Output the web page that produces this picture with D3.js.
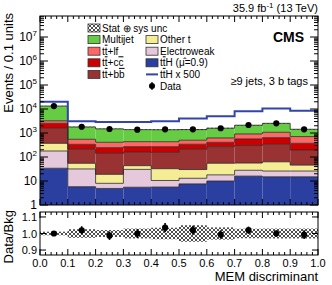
<!DOCTYPE html>
<html>
<head>
<meta charset="utf-8">
<script src="https://cdn.jsdelivr.net/npm/d3@7"></script>
<style>
  body { margin: 0; background: #fff; }
  text { font-family: "Liberation Sans", Arial, sans-serif; }
</style>
</head>
<body>
<svg id="chart"></svg>
<script>
// bin edges of the MEM discriminant
const binEdges = [0, 0.1, 0.2, 0.3, 0.4, 0.5, 0.6, 0.7, 0.8, 0.9, 1.0];

// stacked backgrounds (events per bin), bottom to top
const ttH = [34, 5.8, 4.9, 5.5, 5.6, 7.6, 10, 16, 15, 15];
const electroweak = [144, 26, 3.1, 25, 4.9, 5.4, 8, 12, 11, 11];
const otherT = [194, 23, 11, 13, 22, 17, 37, 28, 37, 20];
const ttbb = [1208, 154, 123, 117, 123, 179, 215, 244, 275, 149];
const ttcc = [950, 129, 103, 110, 114, 131, 140, 270, 302, 177];
const ttlf = [710, 209, 165, 165, 165, 160, 210, 340, 430, 338];
const multijet = [10060, 1238, 1080, 945, 937, 892, 970, 1198, 1460, 720];

// ttH signal scaled x 500
const ttHx500 = [20000, 3100, 2850, 2850, 3100, 4000, 5000, 8000, 10500, 8500];

// data and its error
const dataVals = [13300, 1820, 1470, 1380, 1420, 1420, 1580, 2150, 2530, 1420];
const dataErr = [115, 43, 38, 37, 38, 38, 40, 46, 50, 38];

// relative stat+sys uncertainty on the total background
const relUnc = [0.011, 0.026, 0.021, 0.03, 0.035, 0.05, 0.037, 0.029, 0.03, 0.03];

const yTickExps = [0, 1, 2, 3, 4, 5, 6, 7];
const xTickLabels = ['0.0', '0.1', '0.2', '0.3', '0.4', '0.5', '0.6', '0.7', '0.8', '0.9', '1.0'];
const ratioTicks = [0.9, 1.0, 1.1];

const W = 332, H = 285;
const left = 40, right = 318;
const upTop = 16, upBot = 205;
const loTop = 212, loBot = 255;

const svg = d3.select('#chart').attr('width', W).attr('height', H);

const x = d3.scaleLinear().domain([0, 1]).range([left, right]);
const y = d3.scaleLog().domain([1, 7.5e7]).range([upBot, upTop]);
const yr = d3.scaleLinear().domain([0.87, 1.13]).range([loBot, loTop]);

// hatch pattern for the uncertainty
const defs = svg.append('defs');
defs.append('pattern')
  .attr('id', 'hatch')
  .attr('width', 4).attr('height', 4)
  .attr('patternUnits', 'userSpaceOnUse')
  .append('path')
  .attr('d', 'M0,0L4,4M4,0L0,4M-1,3L1,5M3,-1L5,1')
  .attr('stroke', '#222')
  .attr('stroke-width', 0.8);
defs.append('clipPath').attr('id', 'clipUp')
  .append('rect').attr('x', left).attr('y', upTop).attr('width', right - left).attr('height', upBot - upTop);
defs.append('clipPath').attr('id', 'clipLo')
  .append('rect').attr('x', left).attr('y', loTop).attr('width', right - left).attr('height', loBot - loTop);

const keys = ['ttH', 'electroweak', 'otherT', 'ttbb', 'ttcc', 'ttlf', 'multijet'];
const colors = {
  ttH: '#2b3fa0',
  electroweak: '#e6c8dc',
  otherT: '#f5ed96',
  ttbb: '#993333',
  ttcc: '#cc0000',
  ttlf: '#ff6666',
  multijet: '#66cc44'
};
const sources = { ttH, electroweak, otherT, ttbb, ttcc, ttlf, multijet };

const rows = binEdges.slice(0, -1).map((lo, i) => {
  const r = { lo, hi: binEdges[i + 1] };
  keys.forEach(k => { r[k] = sources[k][i]; });
  return r;
});
const series = d3.stack().keys(keys)(rows);
const total = rows.map(r => d3.sum(keys, k => r[k]));

const up = svg.append('g').attr('clip-path', 'url(#clipUp)');

// stacked fills
series.forEach(s => {
  up.selectAll(null)
    .data(s)
    .enter()
    .append('rect')
    .attr('x', d => x(d.data.lo))
    .attr('width', d => x(d.data.hi) - x(d.data.lo))
    .attr('y', d => y(d[1]))
    .attr('height', d => y(Math.max(d[0], 1)) - y(d[1]))
    .attr('fill', colors[s.key]);
});

// step outline helper
const stepPts = vals => {
  const pts = [];
  vals.forEach((v, i) => { pts.push([binEdges[i], v], [binEdges[i + 1], v]); });
  return pts;
};
const stepLine = d3.line().x(d => x(d[0])).y(d => y(d[1]));

series.forEach(s => {
  up.append('path')
    .attr('d', stepLine(stepPts(s.map(d => d[1]))))
    .attr('fill', 'none')
    .attr('stroke', '#2a2a2a')
    .attr('stroke-width', 0.8);
});

// uncertainty band on the stack
up.selectAll(null)
  .data(rows)
  .enter()
  .append('rect')
  .attr('x', d => x(d.lo))
  .attr('width', d => x(d.hi) - x(d.lo))
  .attr('y', (d, i) => y(total[i] * (1 + relUnc[i])))
  .attr('height', (d, i) => y(total[i] * (1 - relUnc[i])) - y(total[i] * (1 + relUnc[i])))
  .attr('fill', 'url(#hatch)');

// ttH x 500 line
up.append('path')
  .attr('d', stepLine(stepPts(ttHx500)))
  .attr('fill', 'none')
  .attr('stroke', '#3344aa')
  .attr('stroke-width', 2);

// data points
const mid = i => (binEdges[i] + binEdges[i + 1]) / 2;
up.selectAll(null)
  .data(dataVals)
  .enter()
  .append('line')
  .attr('x1', (d, i) => x(mid(i))).attr('x2', (d, i) => x(mid(i)))
  .attr('y1', (d, i) => y(d + dataErr[i])).attr('y2', (d, i) => y(d - dataErr[i]))
  .attr('stroke', '#000').attr('stroke-width', 1.5);
up.selectAll(null)
  .data(dataVals)
  .enter()
  .append('circle')
  .attr('cx', (d, i) => x(mid(i)))
  .attr('cy', d => y(d))
  .attr('r', 3.1)
  .attr('fill', '#000');

// ratio panel
const lo = svg.append('g').attr('clip-path', 'url(#clipLo)');
lo.selectAll(null)
  .data(rows)
  .enter()
  .append('rect')
  .attr('x', d => x(d.lo))
  .attr('width', d => x(d.hi) - x(d.lo))
  .attr('y', (d, i) => yr(1 + relUnc[i]))
  .attr('height', (d, i) => yr(1 - relUnc[i]) - yr(1 + relUnc[i]))
  .attr('fill', 'url(#hatch)');
lo.selectAll(null)
  .data(dataVals)
  .enter()
  .append('line')
  .attr('x1', (d, i) => x(mid(i))).attr('x2', (d, i) => x(mid(i)))
  .attr('y1', (d, i) => yr((d + dataErr[i]) / total[i]))
  .attr('y2', (d, i) => yr((d - dataErr[i]) / total[i]))
  .attr('stroke', '#000').attr('stroke-width', 1.6);
lo.selectAll(null)
  .data(dataVals)
  .enter()
  .append('circle')
  .attr('cx', (d, i) => x(mid(i)))
  .attr('cy', (d, i) => yr(d / total[i]))
  .attr('r', 3.1)
  .attr('fill', '#000');

// frames
[[upTop, upBot], [loTop, loBot]].forEach(([t, b]) => {
  svg.append('rect')
    .attr('x', left).attr('y', t)
    .attr('width', right - left).attr('height', b - t)
    .attr('fill', 'none').attr('stroke', '#000').attr('stroke-width', 1);
});

const ax = svg.append('g').attr('stroke', '#000').attr('stroke-width', 1);

// x ticks on both panels, top and bottom, pointing inward
const xMinor = d3.range(0, 51).map(k => k * 0.02);
[[upTop, upBot], [loTop, loBot]].forEach(([t, b]) => {
  xMinor.forEach((v, k) => {
    const len = k % 5 === 0 ? 6 : 3;
    ax.append('line').attr('x1', x(v)).attr('x2', x(v)).attr('y1', b).attr('y2', b - len);
    ax.append('line').attr('x1', x(v)).attr('x2', x(v)).attr('y1', t).attr('y2', t + len);
  });
});

// log y ticks
y.ticks().forEach(v => {
  const major = Math.abs(Math.log10(v) - Math.round(Math.log10(v))) < 1e-9;
  const len = major ? 8 : 4;
  ax.append('line').attr('x1', left).attr('x2', left + len).attr('y1', y(v)).attr('y2', y(v));
  ax.append('line').attr('x1', right).attr('x2', right - len).attr('y1', y(v)).attr('y2', y(v));
});

// ratio y ticks
ratioTicks.forEach(v => {
  ax.append('line').attr('x1', left).attr('x2', left + 6).attr('y1', yr(v)).attr('y2', yr(v));
  ax.append('line').attr('x1', right).attr('x2', right - 6).attr('y1', yr(v)).attr('y2', yr(v));
});

// log y labels
yTickExps.forEach(e => {
  const t = svg.append('text')
    .attr('x', 37).attr('y', y(Math.pow(10, e)) + 4)
    .attr('text-anchor', 'end')
    .attr('font-size', 12);
  if (e === 0) t.text('1');
  else if (e === 1) t.text('10');
  else {
    t.append('tspan').text('10');
    t.append('tspan').attr('font-size', 8).attr('dy', -5).text(e);
  }
});

// ratio y labels
ratioTicks.forEach(v => {
  svg.append('text')
    .attr('x', 37).attr('y', yr(v) + 4)
    .attr('text-anchor', 'end')
    .attr('font-size', 11)
    .text(v.toFixed(1));
});

// x labels
xTickLabels.forEach((lab, i) => {
  svg.append('text')
    .attr('x', x(i / 10)).attr('y', 267)
    .attr('text-anchor', 'middle')
    .attr('font-size', 11)
    .text(lab);
});

// axis titles
svg.append('text')
  .attr('transform', `translate(13,13) rotate(-90)`)
  .attr('text-anchor', 'end')
  .attr('font-size', 13)
  .text('Events / 0.1 units');
svg.append('text')
  .attr('transform', `translate(13,210) rotate(-90)`)
  .attr('text-anchor', 'end')
  .attr('font-size', 13)
  .text('Data/Bkg');
svg.append('text')
  .attr('x', right).attr('y', 281)
  .attr('text-anchor', 'end')
  .attr('font-size', 13)
  .text('MEM discriminant');

// header texts
const lumi = svg.append('text').attr('x', 318).attr('y', 12).attr('text-anchor', 'end').attr('font-size', 11);
lumi.append('tspan').text('35.9 fb');
lumi.append('tspan').attr('font-size', 8).attr('dy', -4).text('-1');
lumi.append('tspan').attr('dy', 4).text(' (13 TeV)');

svg.append('text')
  .attr('x', 304).attr('y', 42)
  .attr('text-anchor', 'end')
  .attr('font-size', 14)
  .attr('font-weight', 'bold')
  .text('CMS');

svg.append('text')
  .attr('x', 308).attr('y', 85)
  .attr('text-anchor', 'end')
  .attr('font-size', 11)
  .text('\u22659 jets, 3 b tags');

// legend
const legRow = k => 28 + k * 11.6;
const leg = svg.append('g').attr('font-size', 10);

const addLabel = (lx, ly, parts) => {
  const t = leg.append('text').attr('x', lx).attr('y', ly + 3.5);
  parts.forEach(p => {
    const sp = t.append('tspan').text(p[0]);
    if (p[1]) sp.style('text-decoration', 'overline');
  });
};
const addBox = (bx, by, fill) => {
  leg.append('rect')
    .attr('x', bx).attr('y', by - 4)
    .attr('width', 12).attr('height', 8)
    .attr('fill', fill)
    .attr('stroke', '#333').attr('stroke-width', 0.8);
};

addBox(88, legRow(0), 'url(#hatch)');
addLabel(102, legRow(0), [['Stat \u2295 sys unc']]);
addBox(88, legRow(1), colors.multijet);
addLabel(102, legRow(1), [['Multijet']]);
addBox(88, legRow(2), colors.ttlf);
addLabel(102, legRow(2), [['t'], ['t', true], ['+lf']]);
addBox(88, legRow(3), colors.ttcc);
addLabel(102, legRow(3), [['t'], ['t', true], ['+c'], ['c', true]]);
addBox(88, legRow(4), colors.ttbb);
addLabel(102, legRow(4), [['t'], ['t', true], ['+b'], ['b', true]]);

addBox(146, legRow(1), colors.otherT);
addLabel(160, legRow(1), [['Other t']]);
addBox(146, legRow(2), colors.electroweak);
addLabel(160, legRow(2), [['Electroweak']]);
addBox(146, legRow(3), colors.ttH);
addLabel(160, legRow(3), [['t'], ['t', true], ['H (\u03BC\u0302=0.9)']]);
leg.append('line')
  .attr('x1', 146).attr('x2', 158)
  .attr('y1', legRow(4)).attr('y2', legRow(4))
  .attr('stroke', '#3344aa').attr('stroke-width', 2);
addLabel(160, legRow(4), [['t'], ['t', true], ['H x 500']]);
leg.append('line')
  .attr('x1', 152).attr('x2', 152)
  .attr('y1', legRow(5) - 4).attr('y2', legRow(5) + 4)
  .attr('stroke', '#000').attr('stroke-width', 1.2);
leg.append('circle').attr('cx', 152).attr('cy', legRow(5)).attr('r', 3).attr('fill', '#000');
addLabel(160, legRow(5), [['Data']]);
</script>
</body>
</html>
